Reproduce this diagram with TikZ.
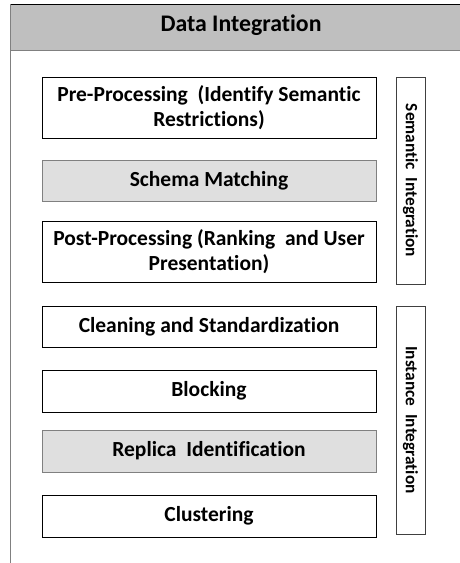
\documentclass[tikz,border=0pt]{standalone}
\usepackage{fontspec}
\setmainfont[Ligatures={NoCommon,NoContextual},RawFeature={-liga;-clig;-calt}]{Carlito}

\begin{document}
\begin{tikzpicture}[x=1pt, y=-1pt,
   stage/.style={draw=black, line width=0.8pt, fill=white, minimum width=334pt,
                 inner sep=0pt, align=center, font=\fontsize{21.5}{25}\selectfont\bfseries},
   shaded/.style={stage, draw=gray, fill=gray!25},
   band/.style={draw=black!75, line width=0.8pt, minimum height=29pt, inner sep=0pt,
                rotate=-90, font=\fontsize{17.3}{20}\selectfont\bfseries}]
   \useasboundingbox (0,0) rectangle (460,563);
   \clip (0,0) rectangle (460,563);
   % header strip and left rule
   \fill[gray!50] (10,4) rectangle (470,50);
   \draw[line width=0.8pt] (10,4) -- (470,4);
   \draw[gray, line width=1pt] (10,50) -- (470,50);
   \draw[gray, line width=1.2pt] (10.6,4) -- (10.6,563);
   \node[font=\fontsize{23.8}{28}\selectfont\bfseries] (title) at (241,25) {Data Integration};
   % semantic steps
   \node[stage,  minimum height=61pt] (pre)    at (209,107.5) {Pre-Processing~~(Identify Semantic\\ Restrictions)};
   \node[shaded, minimum height=41pt] (schema) at (209,180.5) {Schema Matching};
   \node[stage,  minimum height=61pt] (post)   at (209,251.5) {Post-Processing (Ranking~~and User\\ Presentation)};
   % instance steps
   \node[stage,  minimum height=41pt] (clean)  at (209,326.5) {Cleaning and Standardization};
   \node[stage,  minimum height=42pt] (block)  at (209,391)   {Blocking};
   \node[shaded, minimum height=42pt] (replica) at (209,451)  {Replica~~Identification};
   \node[stage,  minimum height=42pt] (cluster) at (209,516)  {Clustering};
   % side bands
   \node[band, minimum width=207pt] (semantic) at (410.5,180.5) {Semantic~~Integration};
   \node[band, minimum width=228pt] (instance) at (410.5,420)   {Instance~~Integration};
\end{tikzpicture}
\end{document}
